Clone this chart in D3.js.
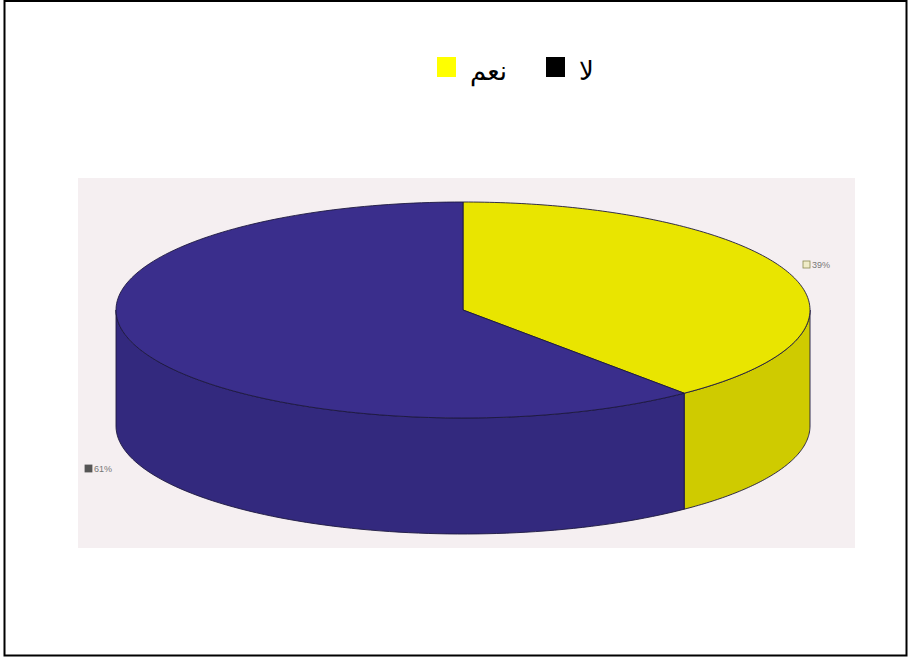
<!DOCTYPE html>
<html><head><meta charset="utf-8">
<script src="https://cdn.jsdelivr.net/npm/d3@7"></script>
<style>html,body{margin:0;padding:0;background:#fff;}svg{display:block;}</style>
</head><body>
<script>
const categories = ["نعم", "لا"];
const values = [39, 61];
const sliceLabels = ["39%", "61%"];
const legendLabels = ["نعم", "لا"];

const W = 908, H = 658;
const svg = d3.select("body").append("svg").attr("width", W).attr("height", H);
svg.append("rect").attr("x", 0).attr("y", 0).attr("width", W).attr("height", H).attr("fill", "#fff");
// outer frame
svg.append("rect").attr("x", 4.5).attr("y", 1).attr("width", 902).attr("height", 654.5)
  .attr("fill", "none").attr("stroke", "#000").attr("stroke-width", 2);

// photo background
svg.append("rect").attr("x", 78).attr("y", 178).attr("width", 777).attr("height", 370).attr("fill", "#f5eff1");

const topColors = ["#e9e500", "#3a2e8c"];
const sideColors = ["#cfcb00", "#33297e"];
const cx = 463, cy = 310, rx = 347, ry = 108, depth = 116;

const pie = d3.pie().sort(null).value(d => d);
const arcs = pie(values);

const px = a => cx + rx * Math.sin(a);
const py = a => cy - ry * Math.cos(a);
function sample(a0, a1, n, dy) {
  const pts = [];
  for (let i = 0; i <= n; i++) { const a = a0 + (a1 - a0) * i / n; pts.push([px(a), py(a) + dy]); }
  return pts;
}
const line = d3.line();

// side walls (front half: angles between PI/2 and 3PI/2)
arcs.forEach((d, i) => {
  const a0 = Math.max(d.startAngle, Math.PI / 2), a1 = Math.min(d.endAngle, 3 * Math.PI / 2);
  if (a1 <= a0) return;
  const topPts = sample(a0, a1, 80, 0);
  const botPts = sample(a1, a0, 80, depth);
  svg.append("path").attr("d", line(topPts.concat(botPts)) + "Z")
    .attr("fill", sideColors[i]).attr("stroke", "#1d1840").attr("stroke-width", 0.9).attr("stroke-linejoin", "round");
});

// top faces
arcs.forEach((d, i) => {
  const pts = [[cx, cy]].concat(sample(d.startAngle, d.endAngle, 160, 0));
  svg.append("path").attr("d", line(pts) + "Z")
    .attr("fill", topColors[i]).attr("stroke", "#1d1840").attr("stroke-width", 0.9).attr("stroke-linejoin", "round");
});

// slice labels
const labelPos = [[803, 261], [85, 465]];
const labelSq = ["#f0ecc8", "#555"];
arcs.forEach((d, i) => {
  const [lx, ly] = labelPos[i];
  svg.append("rect").attr("x", lx).attr("y", ly).attr("width", 7).attr("height", 7)
    .attr("fill", labelSq[i]).attr("stroke", i === 0 ? "#8a8a50" : "#555").attr("stroke-width", 0.8);
  svg.append("text").attr("x", lx + 9).attr("y", ly + 7).attr("font-family", "Liberation Sans, Arial, sans-serif")
    .attr("font-size", 9).attr("fill", "#777").text(sliceLabels[i]);
});

// legend
const legendColors = ["#ffff00", "#000000"];
const legendX = [437, 546];
const legendTextX = [470, 579];
legendLabels.forEach((t, i) => {
  svg.append("rect").attr("x", legendX[i]).attr("y", 57).attr("width", 19).attr("height", 20).attr("fill", legendColors[i]);
  svg.append("text").attr("x", legendTextX[i]).attr("y", 80).attr("font-family", "DejaVu Sans, sans-serif")
    .attr("font-size", 26).attr("fill", "#000").attr("text-anchor", "start").text(t);
});
</script>
</body></html>
